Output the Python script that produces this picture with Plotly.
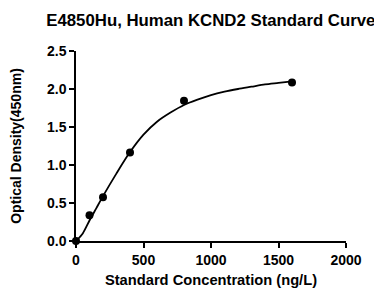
import plotly.graph_objects as go

# Standard points
conc = [0, 100, 200, 400, 800, 1600]
od = [0.0, 0.339, 0.576, 1.163, 1.847, 2.084]

# Fitted curve
curve_x = [0, 50, 100, 150, 200, 300, 400, 500, 600, 700, 800, 900, 1000, 1100, 1200, 1300, 1400, 1500, 1600]
curve_y = [0.0, 0.10, 0.27, 0.43, 0.59, 0.89, 1.17, 1.40, 1.57, 1.69, 1.79, 1.86, 1.92, 1.965, 2.00, 2.03, 2.06, 2.08, 2.10]

title_text = "E4850Hu, Human KCND2 Standard Curve"
x_title = "Standard Concentration (ng/L)"
y_title = "Optical Density(450nm)"

FONT = "Arial, Liberation Sans, sans-serif"

fig = go.Figure()
fig.add_trace(go.Scatter(x=curve_x, y=curve_y, mode="lines",
                         line=dict(color="black", width=1.8, shape="spline", smoothing=0.8),
                         hoverinfo="skip", cliponaxis=False, showlegend=False))
fig.add_trace(go.Scatter(x=conc, y=od, mode="markers",
                         marker=dict(color="black", size=8),
                         cliponaxis=False, showlegend=False))

fig.update_layout(
    width=382, height=289,
    margin=dict(l=68, r=44, t=43, b=56, autoexpand=False),
    paper_bgcolor="white", plot_bgcolor="white",
    font=dict(family=FONT, color="black"),
    title=dict(text="<b>" + title_text + "</b>", x=0.531, xanchor="center",
               y=0.958, yanchor="middle", font=dict(size=16.8, family=FONT)),
    xaxis=dict(range=[0, 2000], dtick=500, tick0=0, showline=True, linewidth=1.5,
               linecolor="black", ticks="outside", ticklen=5, tickwidth=1.5,
               tickcolor="black", showgrid=False, zeroline=False, automargin=False,
               tickfont=dict(size=14, family=FONT),
               title=dict(text="<b>" + x_title + "</b>", font=dict(size=14.7), standoff=8)),
    yaxis=dict(range=[0, 2.5], dtick=0.5, tick0=0, tickformat=".1f", showline=True,
               linewidth=1.5, linecolor="black", ticks="outside", ticklen=5,
               tickwidth=1.5, tickcolor="black", showgrid=False, zeroline=False,
               automargin=False,
               tickfont=dict(size=14, family=FONT),
               title=dict(text="<b>" + y_title + "</b>", font=dict(size=14), standoff=22)),
)
fig.update_xaxes(tickprefix="<b>", ticksuffix="</b>")
fig.update_yaxes(tickprefix="<b>", ticksuffix="</b>")

fig.write_html("out.html")
